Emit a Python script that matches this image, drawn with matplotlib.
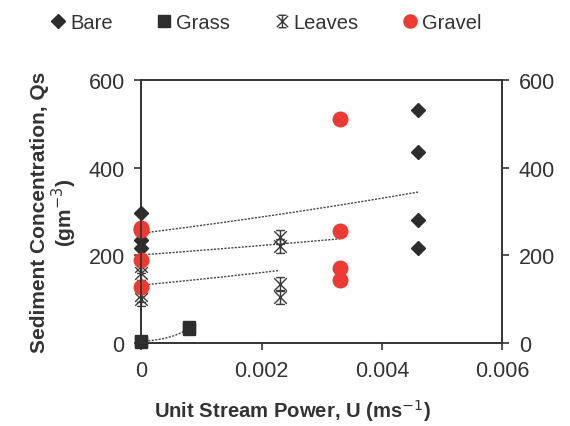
import numpy as np
import matplotlib
matplotlib.use("Agg")
import matplotlib.pyplot as plt
from matplotlib.path import Path

plt.rcParams['font.family'] = ['Liberation Sans', 'DejaVu Sans']

# Data
bare_x = [0, 0, 0, 0, 0.0046, 0.0046, 0.0046, 0.0046]
bare_y = [298, 260, 235, 217, 531, 436, 281, 217]
grass_x = [0, 0, 0.0008, 0.0008]
grass_y = [3, 5, 32, 38]
leaves_x = [0, 0, 0, 0, 0.0023, 0.0023, 0.0023, 0.0023]
leaves_y = [175, 160, 110, 100, 242, 221, 135, 105]
gravel_x = [0, 0, 0, 0, 0.0033, 0.0033, 0.0033, 0.0033]
gravel_y = [262, 258, 190, 128, 511, 255, 171, 144]

x_ticks = [0, 0.002, 0.004, 0.006]
x_ticklabels = ['0', '0.002', '0.004', '0.006']
y_ticks = [0, 200, 400, 600]

dark = '#2d2d2d'
red = '#ec3b33'
txt = '#333333'

# star marker: X with vertical bar and caps
star_verts = [(-0.5, -0.5), (0.5, 0.5), (-0.5, 0.5), (0.5, -0.5),
              (0, -0.55), (0, 0.55), (-0.35, 0.55), (0.35, 0.55), (-0.35, -0.55), (0.35, -0.55)]
star_codes = [Path.MOVETO, Path.LINETO] * 5
star = Path(star_verts, star_codes)

fig = plt.figure(figsize=(5.7, 4.27), dpi=100)
ax = fig.add_axes([0.248, 0.194, 0.633, 0.616])


def exp_trend(x, y):
    x = np.asarray(x, float)
    y = np.asarray(y, float)
    b, ln_a = np.polyfit(x, np.log(y), 1)
    xs = np.linspace(x.min(), x.max(), 100)
    ax.plot(xs, np.exp(ln_a) * np.exp(b * xs), color='#444444', lw=1.0,
            ls=(0, (1.5, 1)), zorder=2)


for xs_, ys_ in [(bare_x, bare_y), (grass_x, grass_y), (leaves_x, leaves_y), (gravel_x, gravel_y)]:
    exp_trend(xs_, ys_)

ax.plot(bare_x, bare_y, ls='none', marker='D', ms=7.5, color=dark, label='Bare',
        zorder=5, clip_on=False)
ax.plot(grass_x, grass_y, ls='none', marker='s', ms=9, color=dark, label='Grass',
        zorder=5, clip_on=False)
ax.plot(leaves_x, leaves_y, ls='none', marker=star, ms=10, mew=1.0, color='#3a3a3a',
        mfc='none', label='Leaves', zorder=5, clip_on=False)
ax.plot(gravel_x, gravel_y, ls='none', marker='o', ms=10.5, color=red, label='Gravel',
        zorder=6, clip_on=False)

ax.set_xlim(0, 0.006)
ax.set_ylim(0, 600)
ax.set_xticks(x_ticks)
ax.set_xticklabels(x_ticklabels)
ax.set_yticks(y_ticks)
for s in ax.spines.values():
    s.set_color(txt)
    s.set_linewidth(1.2)
ax.tick_params(direction='out', length=5, width=1.2, color=txt,
               labelsize=15.5, labelcolor=txt, pad=7)

ax2 = ax.twinx()
ax2.set_ylim(0, 600)
ax2.set_yticks(y_ticks)
ax2.tick_params(direction='out', length=5, width=1.2, color=txt,
                labelsize=15.5, labelcolor=txt, pad=7)
for s in ax2.spines.values():
    s.set_color(txt)
    s.set_linewidth(1.2)

ax.set_xlabel('Unit Stream Power, U (ms$^{-1}$)', fontsize=14.6, fontweight='bold',
              color=txt)
ax.xaxis.set_label_coords(0.42, -0.205)
ax.set_ylabel('Sediment Concentration, Qs\n(gm$^{-3}$)', fontsize=15, fontweight='bold',
              color=txt, linespacing=1.05)
ax.yaxis.set_label_coords(-0.172, 0.5)

leg = fig.legend(loc='upper center', bbox_to_anchor=(0.465, 1.01), ncol=4, frameon=False,
                 fontsize=14.5, handletextpad=0.1, columnspacing=2.05, handlelength=1.0,
                 markerscale=0.9)
for t in leg.get_texts():
    t.set_color(txt)

fig.savefig('out.png', dpi=100)
